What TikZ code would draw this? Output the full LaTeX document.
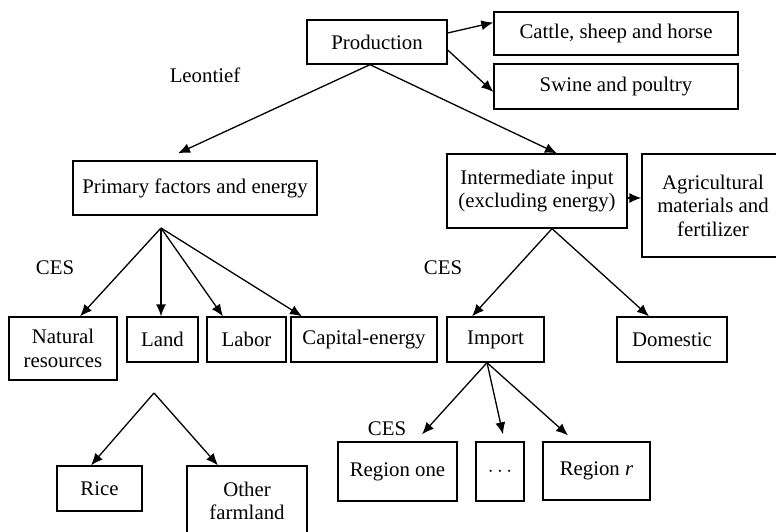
\documentclass[tikz,border=0pt]{standalone}
\usepackage{fontspec}
\setmainfont{Liberation Serif}
\usetikzlibrary{arrows.meta}

\begin{document}
\begin{tikzpicture}[x=1pt, y=-1pt,
    box/.style={draw, line width=1.3pt, inner sep=0pt, align=center},
    arr/.style={-{Latex[length=12pt,width=10pt]}, line width=1.3pt},
    font=\fontsize{20.8}{23.5}\selectfont]
    \clip (0,0) rectangle (776,532);
    % top level
    \node[box, minimum width=140pt, minimum height=44pt] (prod) at (377,42) {Production};
    \node[box, minimum width=244pt, minimum height=43pt] (cattle) at (616,33.5) {Cattle, sheep and horse};
    \node[box, minimum width=244pt, minimum height=45pt] (swine) at (616,86.5) {Swine and poultry};
    \node (leon) at (205,75) {Leontief};
    % second level
    \node[box, minimum width=244pt, minimum height=54pt] (prim) at (195,188) {Primary factors and energy};
    \node[box, minimum width=180pt, minimum height=74pt] (inter) at (537,191) {Intermediate input\\(excluding energy)};
    \node[box, minimum width=142pt, minimum height=103pt] (agri) at (713,205.5) {Agricultural\\materials and\\fertilizer};
    \node (ces1) at (55,268) {CES};
    \node (ces2) at (443,268) {CES};
    % third level
    \node[box, minimum width=108pt, minimum height=63pt] (natural) at (63,348.5) {Natural\\resources};
    \node[box, minimum width=71pt, minimum height=45pt] (land) at (162.5,339.5) {Land};
    \node[box, minimum width=79pt, minimum height=45pt] (labor) at (246.5,339.5) {Labor};
    \node[box, minimum width=146pt, minimum height=45pt] (capital) at (364,339.5) {Capital-energy};
    \node[box, minimum width=97pt, minimum height=45pt] (import) at (495.5,339.5) {Import};
    \node[box, minimum width=110pt, minimum height=45pt] (domestic) at (672,339.5) {Domestic};
    % bottom level
    \node (ces3) at (387,429) {CES};
    \node[box, minimum width=119pt, minimum height=59pt] (regone) at (397.5,471.5) {Region one};
    \node[box, minimum width=48pt, minimum height=59pt] (dots) at (500,471.5) {$\cdots$};
    \node[box, minimum width=107pt, minimum height=58pt] (regr) at (596.5,471) {Region \textit{r}};
    \node[box, minimum width=85pt, minimum height=45pt] (rice) at (99.5,488.5) {Rice};
    \node[box, minimum width=120pt, minimum height=70pt] (other) at (247,501) {Other\\farmland};
    \coordinate (primfan) at (161,228);
    \coordinate (landfan) at (154,393);

    \draw[arr] ([yshift=9pt]prod.east) -- ([yshift=11pt]cattle.west);
    \draw[arr] ([yshift=-8pt]prod.east) -- ([yshift=-5.5pt]swine.west);
    \draw[arr] ([xshift=-7pt]prod.south) -- ([xshift=-17pt,yshift=7pt]prim.north);
    \draw[arr] ([xshift=-7pt]prod.south) -- ([xshift=20pt]inter.north);
    \draw[arr] ([yshift=-7pt]inter.east) -- ([yshift=7.5pt]agri.west);
    \foreach \n/\dx in {natural/17, land/-1.5, labor/-23.5, capital/-62}
        \draw[arr] (primfan) -- ([xshift=\dx pt]\n.north);
    \draw[arr] ([xshift=15pt]inter.south) -- ([xshift=-23.5pt]import.north);
    \draw[arr] ([xshift=15pt]inter.south) -- ([xshift=-23pt]domestic.north);
    \draw[arr] ([xshift=-8.5pt]import.south) -- ([xshift=24.5pt,yshift=7pt]regone.north);
    \draw[arr] ([xshift=-8.5pt]import.south) -- ([xshift=3pt,yshift=7pt]dots.north);
    \draw[arr] ([xshift=-8.5pt]import.south) -- ([xshift=-28.5pt,yshift=6pt]regr.north);
    \draw[arr] (landfan) -- ([xshift=-8.5pt]rice.north);
    \draw[arr] (landfan) -- ([xshift=-29pt]other.north);
\end{tikzpicture}
\end{document}
